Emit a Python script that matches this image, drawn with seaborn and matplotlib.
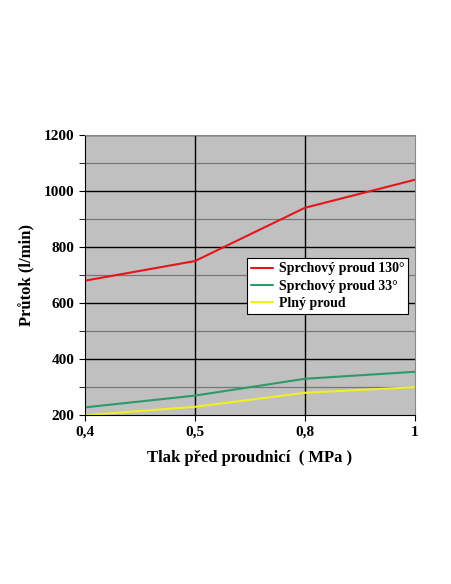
import matplotlib
matplotlib.use("Agg")
import matplotlib.pyplot as plt
import seaborn as sns
import pandas as pd

x_labels = ["0,4", "0,5", "0,8", "1"]
red = [680, 750, 940, 1040]
green = [228, 270, 330, 355]
yellow = [200, 230, 280, 300]
names = ["Sprchový proud 130°", "Sprchový proud 33°", "Plný proud"]
colors = ["#e8141c", "#2e9a6a", "#f0f020"]

sns.set_style("white")
plt.rcParams['font.family'] = ['Liberation Serif', 'DejaVu Serif']
plt.rcParams['text.color'] = 'black'
plt.rcParams['axes.labelcolor'] = 'black'
plt.rcParams['xtick.color'] = 'black'
plt.rcParams['ytick.color'] = 'black'

rows = []
for n, vals in zip(names, [red, green, yellow]):
    for i, v in enumerate(vals):
        rows.append({"x": i, "y": v, "s": n})
df = pd.DataFrame(rows)

fig = plt.figure(figsize=(4.52, 5.84), dpi=100)
ax = fig.add_axes([0.188, 0.289, 0.730, 0.480])
ax.set_facecolor("#c0c0c0")
for v in range(300, 1200, 200):
    ax.axhline(v, color="#777777", lw=0.9, zorder=0)
for v in range(400, 1201, 200):
    ax.axhline(v, color="black", lw=1.0, zorder=0)
for i in [1, 2]:
    ax.axvline(i, color="black", lw=1.0, zorder=0)
sns.lineplot(data=df, x="x", y="y", hue="s", palette=colors, lw=1.5, ax=ax)
ax.set_xlim(0, 3)
ax.set_ylim(200, 1200)
ax.set_xticks(range(4))
ax.set_xticklabels(x_labels)
ax.set_yticks(range(200, 1201, 200))
ax.set_yticks(range(300, 1200, 200), minor=True)
ax.tick_params(axis="both", which="both", direction="out", length=4, color="black",
               labelsize=11, left=True, bottom=True, labelcolor="black")
for t in ax.get_xticklabels() + ax.get_yticklabels():
    t.set_fontweight("bold")
for s in ["left", "bottom"]:
    ax.spines[s].set_color("black")
for s in ["top", "right"]:
    ax.spines[s].set_color("#888888")
ax.set_xlabel("Tlak před proudnicí  ( MPa )", fontsize=12, fontweight="bold", labelpad=8, color="black")
ax.set_ylabel("Průtok (l/min)", fontsize=12, fontweight="bold", labelpad=6, color="black")
leg = ax.legend(loc="upper left", bbox_to_anchor=(0.49, 0.56), frameon=True, fancybox=False,
                framealpha=1, edgecolor="black", prop={"weight": "bold", "size": 10},
                handlelength=1.6, handletextpad=0.4, borderpad=0.3, labelspacing=0.3,
                borderaxespad=0)
for t in leg.get_texts():
    t.set_color("black")
leg.get_frame().set_linewidth(0.8)
fig.savefig("out.png", dpi=100)
